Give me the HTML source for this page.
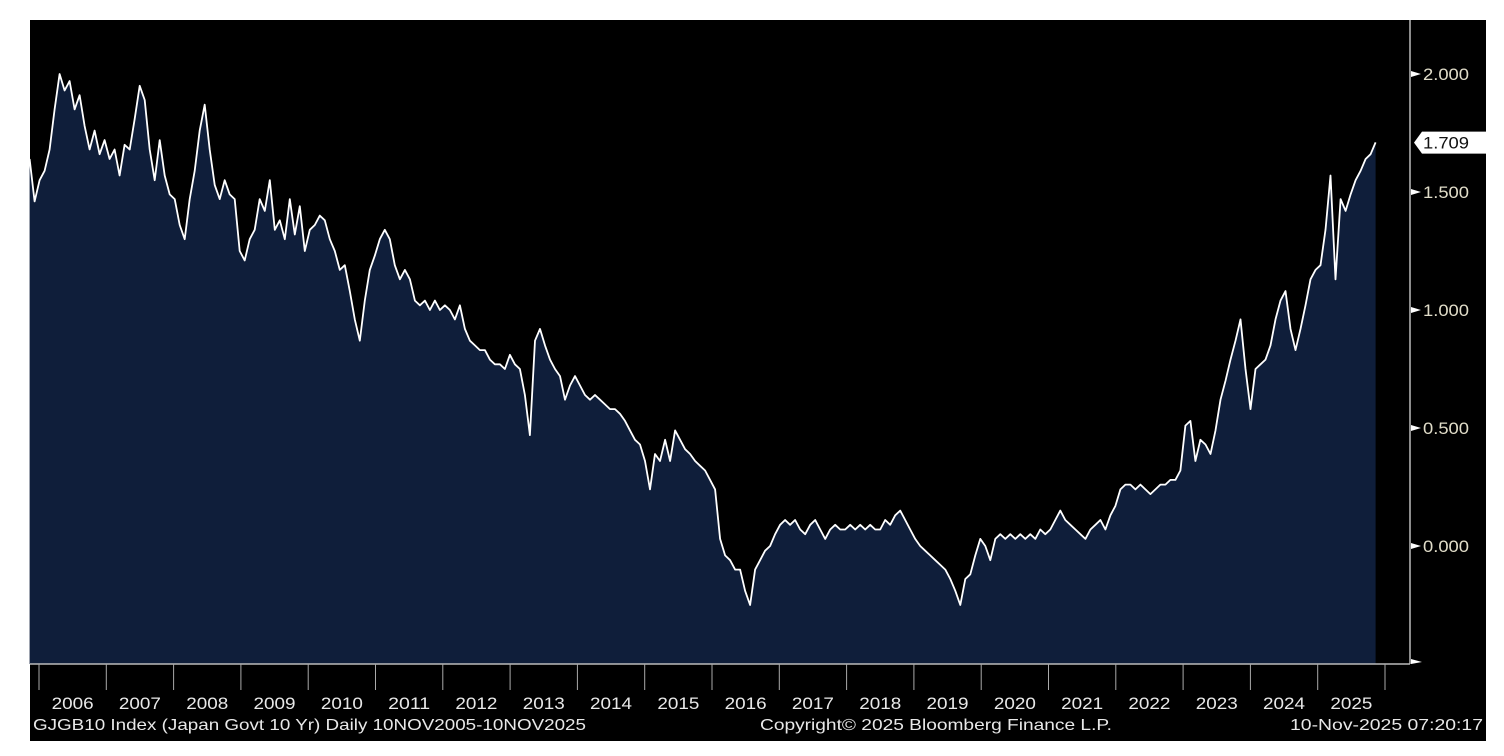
<!DOCTYPE html>
<html><head><meta charset="utf-8"><style>
html,body{margin:0;padding:0;background:#fff;width:1504px;height:756px;overflow:hidden}
svg{display:block}
text{font-family:"Liberation Sans",sans-serif}
</style></head><body>
<svg id="chart" width="1504" height="756" xmlns="http://www.w3.org/2000/svg">
<rect x="30" y="20" width="1456" height="721" fill="#000"/>
<g id="plot"></g>
<g id="yaxis"></g>
<g id="xaxis"></g>
<text x="33" y="730" font-size="16" fill="#e8e8e8" textLength="553" lengthAdjust="spacingAndGlyphs">GJGB10 Index (Japan Govt 10 Yr) Daily 10NOV2005-10NOV2025</text>
<text x="760" y="730" font-size="16" fill="#e8e8e8" textLength="352" lengthAdjust="spacingAndGlyphs">Copyright© 2025 Bloomberg Finance L.P.</text>
<text x="1290" y="730" font-size="16" fill="#e8e8e8" textLength="193" lengthAdjust="spacingAndGlyphs">10-Nov-2025 07:20:17</text>
</svg>
<script>
const startYear = 2005.86;
const endYear = 2025.86;
const yieldValues = [1.64,1.46,1.55,1.59,1.68,1.85,2.00,1.93,1.97,1.85,1.91,1.78,1.68,1.76,1.66,1.72,1.64,1.68,1.57,1.70,1.68,1.81,1.95,1.89,1.68,1.55,1.72,1.57,1.49,1.47,1.36,1.30,1.47,1.59,1.76,1.87,1.68,1.53,1.47,1.55,1.49,1.47,1.25,1.21,1.30,1.34,1.47,1.42,1.55,1.34,1.38,1.30,1.47,1.32,1.44,1.25,1.34,1.36,1.40,1.38,1.30,1.25,1.17,1.19,1.08,0.96,0.87,1.04,1.17,1.23,1.30,1.34,1.30,1.19,1.13,1.17,1.13,1.04,1.02,1.04,1.00,1.04,1.00,1.02,1.00,0.96,1.02,0.92,0.87,0.85,0.83,0.83,0.79,0.77,0.77,0.75,0.81,0.77,0.75,0.64,0.47,0.87,0.92,0.85,0.79,0.75,0.72,0.62,0.68,0.72,0.68,0.64,0.62,0.64,0.62,0.60,0.58,0.58,0.56,0.53,0.49,0.45,0.43,0.36,0.24,0.39,0.36,0.45,0.36,0.49,0.45,0.41,0.39,0.36,0.34,0.32,0.28,0.24,0.03,-0.04,-0.06,-0.10,-0.10,-0.19,-0.25,-0.10,-0.06,-0.02,0.00,0.05,0.09,0.11,0.09,0.11,0.07,0.05,0.09,0.11,0.07,0.03,0.07,0.09,0.07,0.07,0.09,0.07,0.09,0.07,0.09,0.07,0.07,0.11,0.09,0.13,0.15,0.11,0.07,0.03,0.00,-0.02,-0.04,-0.06,-0.08,-0.10,-0.14,-0.19,-0.25,-0.14,-0.12,-0.04,0.03,0.00,-0.06,0.03,0.05,0.03,0.05,0.03,0.05,0.03,0.05,0.03,0.07,0.05,0.07,0.11,0.15,0.11,0.09,0.07,0.05,0.03,0.07,0.09,0.11,0.07,0.13,0.17,0.24,0.26,0.26,0.24,0.26,0.24,0.22,0.24,0.26,0.26,0.28,0.28,0.32,0.51,0.53,0.36,0.45,0.43,0.39,0.49,0.62,0.70,0.79,0.87,0.96,0.75,0.58,0.75,0.77,0.79,0.85,0.96,1.04,1.08,0.92,0.83,0.92,1.02,1.13,1.17,1.19,1.34,1.57,1.13,1.47,1.42,1.49,1.55,1.59,1.64,1.66,1.71];
const yTicks = [2.0,1.5,1.0,0.5,0.0];
const yTickLabels = ["2.000","1.500","1.000","0.500","0.000"];
const years = [2006,2007,2008,2009,2010,2011,2012,2013,2014,2015,2016,2017,2018,2019,2020,2021,2022,2023,2024,2025];
const lastLabel = "1.709";
const lastValue = 1.709;

const NS = "http://www.w3.org/2000/svg";
const xScale = yr => 39 + (yr - 2006) * 67.3;
const yScale = v => 546 - v * 236;
const BOTTOM = 664;
function mk(tag, attrs, parent){const e=document.createElementNS(NS,tag);for(const k in attrs)e.setAttribute(k,attrs[k]);parent.appendChild(e);return e;}

const plot = document.getElementById('plot');
const n = yieldValues.length;
const step = (endYear - startYear) / (n - 1);
const pts = yieldValues.map((v,i)=>[xScale(startYear + i*step), yScale(v)]);
let d = pts.map((p,i)=>(i?'L':'M')+p[0].toFixed(1)+','+p[1].toFixed(1)).join('');
const area = mk('path',{d:d+'L'+pts[n-1][0].toFixed(1)+','+BOTTOM+'L'+pts[0][0].toFixed(1)+','+BOTTOM+'Z',fill:'#0f1e3a'},plot);


const line = mk('path',{d:d,fill:'none',stroke:'#fff','stroke-width':1.8,'stroke-linejoin':'round'},plot);



const yaxis = document.getElementById('yaxis');
const yl = mk('line',{x1:1410,y1:20,x2:1410,y2:BOTTOM,stroke:'#bbb','stroke-width':1.5},yaxis);


yTicks.forEach((t,i)=>{
  const y = yScale(t);
  const tri = mk('path',{d:`M1411,${y-3}L1421,${y}L1411,${y+3}Z`,fill:'#fff'},yaxis);
  
  
  const tx = mk('text',{x:1423,y:y+6,'font-size':16.5,fill:'#e0dcc8',textLength:46,lengthAdjust:'spacingAndGlyphs'},yaxis);
  tx.textContent = yTickLabels[i];
  
  
});
const bt = mk('path',{d:`M1411,${BOTTOM-5}L1422,${BOTTOM-2}L1411,${BOTTOM}Z`,fill:'#fff'},yaxis);


const ly = yScale(lastValue);
const tag = mk('path',{d:`M1414,${ly}L1422,${ly-11}L1486,${ly-11}L1486,${ly+11}L1422,${ly+11}Z`,fill:'#fff'},yaxis);


const tt = mk('text',{x:1423,y:ly+6,'font-size':16.5,fill:'#111',textLength:46,lengthAdjust:'spacingAndGlyphs'},yaxis);
tt.textContent = lastLabel;



const xaxis = document.getElementById('xaxis');
const xl = mk('line',{x1:30,y1:BOTTOM,x2:1410,y2:BOTTOM,stroke:'#bbb','stroke-width':1.5},xaxis);


years.concat([years[years.length-1]+1]).forEach(yr=>{
  const x = xScale(yr);
  const s = mk('line',{x1:x,y1:BOTTOM,x2:x,y2:690,stroke:'#aaa','stroke-width':1},xaxis);
  
  
});
years.forEach(yr=>{
  const x = xScale(yr + 0.5);
  const t = mk('text',{x:x-21,y:709,'font-size':17,fill:'#e8e8e8',textLength:42,lengthAdjust:'spacingAndGlyphs'},xaxis);
  t.textContent = yr;
  
  
});
</script>
</body></html>
